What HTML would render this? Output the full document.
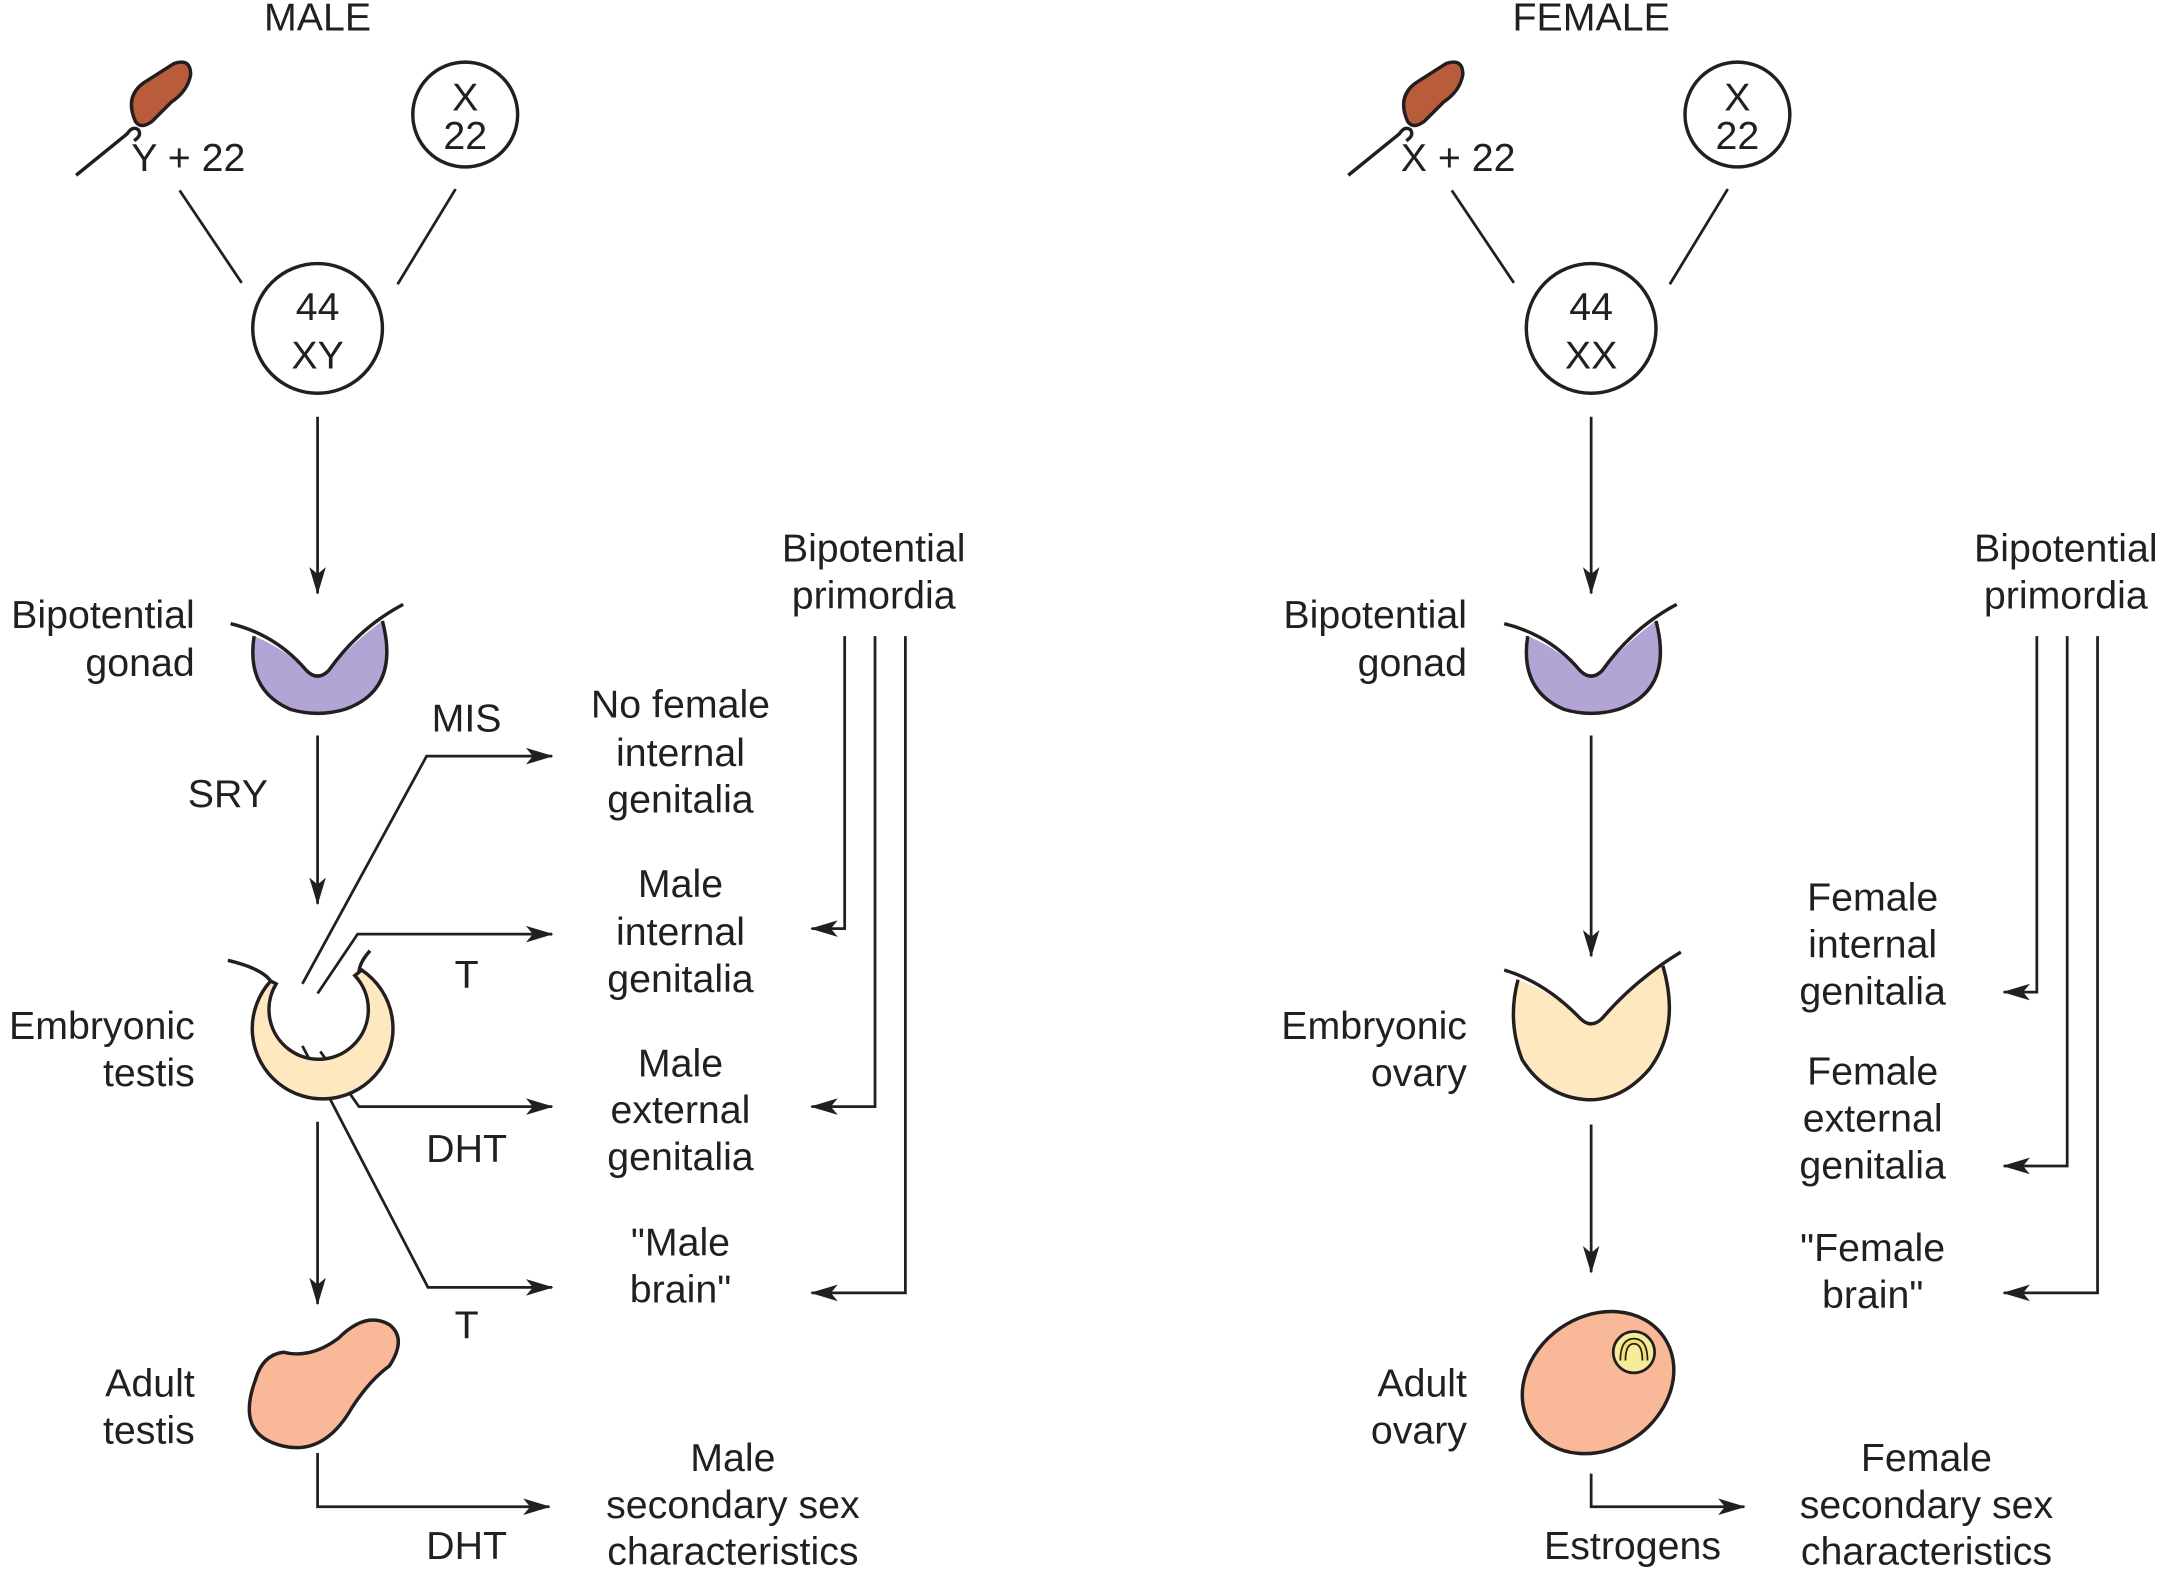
<!DOCTYPE html>
<html><head><meta charset="utf-8"><style>
html,body{margin:0;padding:0;background:#fff}
svg{display:block}
text{font-family:"Liberation Sans",Arial,sans-serif;font-size:28.5px;fill:#231f20}
</style></head><body>
<svg width="2164" height="1573" viewBox="0 0 1568 1140" xmlns="http://www.w3.org/2000/svg">
<defs>
<marker id="ah" viewBox="0 0 20 12" refX="19" refY="6" markerWidth="20" markerHeight="12" markerUnits="userSpaceOnUse" orient="auto">
<path d="M0,0 L20,6 L0,12 L5,6 Z" fill="#231f20"/></marker>
</defs>
<g stroke="#231f20" stroke-width="2" fill="none">
<line x1="130" y1="138" x2="175" y2="205"/>
<line x1="330" y1="137" x2="288" y2="206"/>
<line x1="230" y1="302" x2="230" y2="430" marker-end="url(#ah)"/>
<line x1="230" y1="533" x2="230" y2="655" marker-end="url(#ah)"/>
<line x1="230" y1="813" x2="230" y2="945" marker-end="url(#ah)"/>
<polyline points="219,713 309,548 400,548" marker-end="url(#ah)"/>
<polyline points="230,720 259,677 400,677" marker-end="url(#ah)"/>
<polyline points="232,762 260,802 400,802" marker-end="url(#ah)"/>
<polyline points="219,758 310,933 400,933" marker-end="url(#ah)"/>
<polyline points="230,1053 230,1092 398,1092" marker-end="url(#ah)"/>
<polyline points="612,461 612,673 588,673" marker-end="url(#ah)"/>
<polyline points="634,461 634,802 588,802" marker-end="url(#ah)"/>
<polyline points="656,461 656,937 588,937" marker-end="url(#ah)"/>
<line x1="1052" y1="138" x2="1097" y2="205"/>
<line x1="1252" y1="137" x2="1210" y2="206"/>
<line x1="1153" y1="302" x2="1153" y2="430" marker-end="url(#ah)"/>
<line x1="1153" y1="533" x2="1153" y2="693" marker-end="url(#ah)"/>
<line x1="1153" y1="815" x2="1153" y2="922" marker-end="url(#ah)"/>
<polyline points="1153,1068 1153,1092 1264,1092" marker-end="url(#ah)"/>
<polyline points="1476,461 1476,719 1452,719" marker-end="url(#ah)"/>
<polyline points="1498,461 1498,845 1452,845" marker-end="url(#ah)"/>
<polyline points="1520,461 1520,937 1452,937" marker-end="url(#ah)"/>
</g>
<g stroke="#231f20" stroke-width="2.5">
<path d="M55,127 L92,97 q4,-6 8,-3 q3,4 -3,8" fill="none"/>
<path d="M98,88 q-8,-18 6,-28 l22,-14 q12,-4 12,8 q-2,12 -14,20 l-14,14 q-8,6 -12,0z" fill="#b85c3c"/>
<path d="M977,127 L1014,97 q4,-6 8,-3 q3,4 -3,8" fill="none"/>
<path d="M1020,88 q-8,-18 6,-28 l22,-14 q12,-4 12,8 q-2,12 -14,20 l-14,14 q-8,6 -12,0z" fill="#b85c3c"/>
<circle cx="337" cy="83" r="38" fill="#fff"/>
<circle cx="230" cy="238" r="47" fill="#fff"/>
<circle cx="1259" cy="83" r="38" fill="#fff"/>
<circle cx="1153" cy="238" r="47" fill="#fff"/>
<!-- bipotential gonads -->
<path d="M184,461 Q206,470 222,486 Q230,494 238,486 Q256,465 277,450 Q290,500 250,514 Q230,520 210,514 Q178,500 184,461Z" fill="#b3a4d6" stroke="none"/>
<path d="M184,461 Q178,500 210,514 Q230,520 250,514 Q290,500 277,450" fill="none"/>
<path d="M167,452 Q200,460 222,486 Q230,494 238,486 Q260,455 292,438" fill="none"/>
<path d="M1107,461 Q1129,470 1145,486 Q1153,494 1161,486 Q1179,465 1200,450 Q1213,500 1173,514 Q1153,520 1133,514 Q1101,500 1107,461Z" fill="#b3a4d6" stroke="none"/>
<path d="M1107,461 Q1101,500 1133,514 Q1153,520 1173,514 Q1213,500 1200,450" fill="none"/>
<path d="M1090,452 Q1123,460 1145,486 Q1153,494 1161,486 Q1183,455 1215,438" fill="none"/>
<!-- embryonic testis -->
<path d="M196,711 A51,51 0 1 0 262,703 L257,707 A36,36 0 1 1 200,713 Z" fill="#fde8c0"/>
<path d="M165,696 Q190,702 196,711" fill="none"/>
<path d="M268,689 Q260,698 260,705" fill="none"/>
<!-- embryonic ovary -->
<path d="M1100,710 Q1126,720 1145,738 Q1153,746 1161,738 Q1180,716 1205,700 Q1218,745 1195,775 Q1175,798 1150,797 Q1120,795 1103,768 Q1092,740 1100,710Z" fill="#fde8c0" stroke="none"/>
<path d="M1100,710 Q1092,740 1103,768 Q1120,795 1150,797 Q1175,798 1195,775 Q1218,745 1205,700" fill="none"/>
<path d="M1090,703 Q1120,712 1145,738 Q1153,746 1161,738 Q1185,710 1218,690" fill="none"/>
<!-- adult testis -->
<path d="M185,1000 Q170,1040 205,1048 Q235,1055 255,1020 Q268,1000 282,990 Q295,970 282,960 Q265,950 245,970 Q225,985 205,980 Q190,982 185,1000Z" fill="#f9b898"/>
<!-- adult ovary -->
<ellipse cx="1158" cy="1002" rx="58" ry="48" transform="rotate(-35 1158 1002)" fill="#f9b898"/>
<circle cx="1184" cy="980" r="15" fill="#f6ec9a" stroke-width="2"/>
<path d="M1176,986 q0,-14 8,-14 q8,0 8,14" fill="none" stroke="#231f20" stroke-width="5"/>
<path d="M1176,986 q0,-14 8,-14 q8,0 8,14" fill="none" stroke="#f3e36a" stroke-width="2.5"/>
</g>
<g>
<text x="230" y="22" text-anchor="middle">MALE</text>
<text x="1153" y="22" text-anchor="middle">FEMALE</text>
<text x="95" y="124">Y + 22</text>
<text x="1015" y="124">X + 22</text>
<g text-anchor="middle">
<text x="337" y="80">X</text><text x="337" y="108">22</text>
<text x="1259" y="80">X</text><text x="1259" y="108">22</text>
<text x="230" y="232">44</text><text x="230" y="267">XY</text>
<text x="1153" y="232">44</text><text x="1153" y="267">XX</text>
<text x="633" y="407">Bipotential</text><text x="633" y="441">primordia</text>
<text x="1497" y="407">Bipotential</text><text x="1497" y="441">primordia</text>
<text x="338" y="530">MIS</text>
<text x="165" y="585">SRY</text>
<text x="338" y="716">T</text>
<text x="338" y="842">DHT</text>
<text x="338" y="970">T</text>
<text x="338" y="1130">DHT</text>
<text x="1183" y="1130">Estrogens</text>
<text x="493" y="520">No female</text><text x="493" y="555">internal</text><text x="493" y="589">genitalia</text>
<text x="493" y="650">Male</text><text x="493" y="685">internal</text><text x="493" y="719">genitalia</text>
<text x="493" y="780">Male</text><text x="493" y="814">external</text><text x="493" y="848">genitalia</text>
<text x="493" y="910">"Male</text><text x="493" y="944">brain"</text>
<text x="531" y="1066">Male</text><text x="531" y="1100">secondary sex</text><text x="531" y="1134">characteristics</text>
<text x="1357" y="660">Female</text><text x="1357" y="694">internal</text><text x="1357" y="728">genitalia</text>
<text x="1357" y="786">Female</text><text x="1357" y="820">external</text><text x="1357" y="854">genitalia</text>
<text x="1357" y="914">"Female</text><text x="1357" y="948">brain"</text>
<text x="1396" y="1066">Female</text><text x="1396" y="1100">secondary sex</text><text x="1396" y="1134">characteristics</text>
</g>
<g text-anchor="end">
<text x="141" y="455">Bipotential</text><text x="141" y="490">gonad</text>
<text x="141" y="753">Embryonic</text><text x="141" y="787">testis</text>
<text x="141" y="1012">Adult</text><text x="141" y="1046">testis</text>
<text x="1063" y="455">Bipotential</text><text x="1063" y="490">gonad</text>
<text x="1063" y="753">Embryonic</text><text x="1063" y="787">ovary</text>
<text x="1063" y="1012">Adult</text><text x="1063" y="1046">ovary</text>
</g>
</g>
</svg>
</body></html>
